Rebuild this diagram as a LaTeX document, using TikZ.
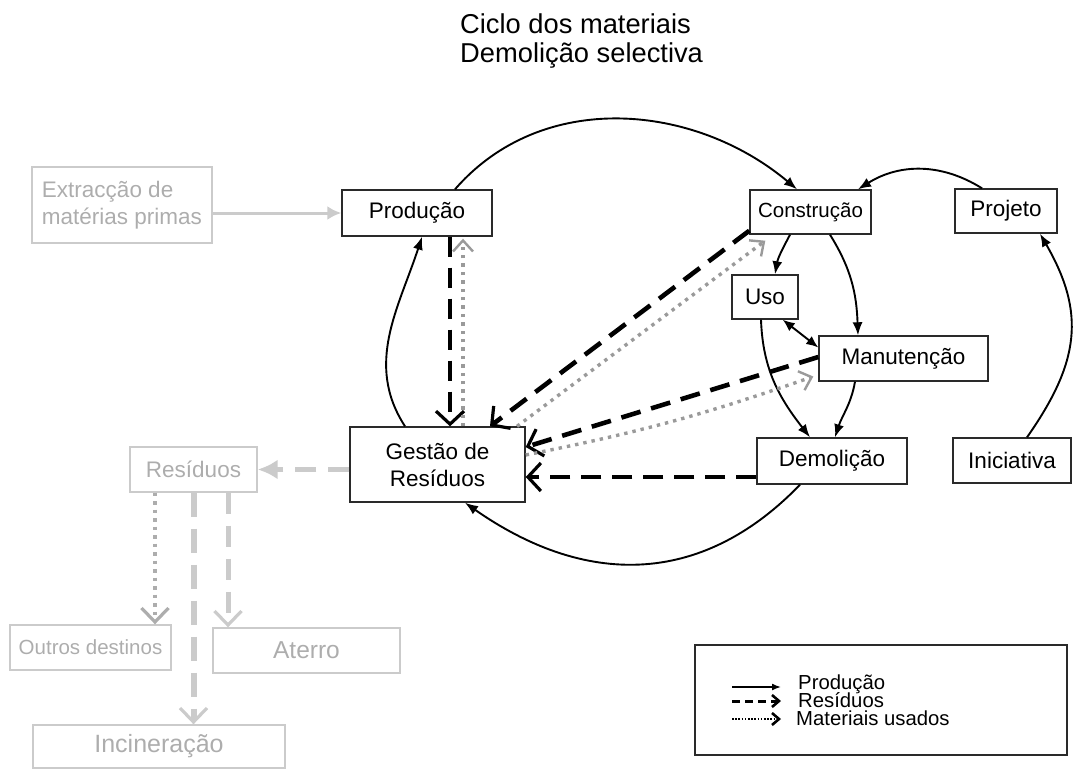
\documentclass[tikz,border=0pt]{standalone}
\usepackage{fontspec}
\setmainfont{Liberation Sans}
\usetikzlibrary{arrows.meta}

\definecolor{pale}{HTML}{CBCBCB}
\definecolor{paletext}{HTML}{ADADAD}
\definecolor{dotgray}{HTML}{9A9A9A}
\definecolor{boxline}{HTML}{2A2A2A}

\tikzset{
  box/.style={draw=boxline, line width=1.4pt, inner sep=0pt, align=center,
    font=\fontsize{22.5}{27}\selectfont},
  palebox/.style={draw=pale, line width=1.4pt, inner sep=0pt, align=center,
    text=paletext, font=\fontsize{22.5}{27}\selectfont},
  prodarrow/.style={line width=1.9pt, -{Latex[length=13pt,width=10pt]}},
  wastearrow/.style={line width=4.6pt, dash pattern=on 20pt off 11pt,
    -{Straight Barb[length=13pt,width=28pt,line width=3.2pt]}},
  usedarrow/.style={dotgray, line width=3.4pt, dash pattern=on 3.4pt off 5pt,
    -{Straight Barb[length=11pt,width=20pt,line width=2.4pt]}},
  palesolid/.style={pale, line width=3pt, -{Latex[length=14pt,width=14pt]}},
  paledash/.style={pale, line width=5pt, dash pattern=on 21pt off 12pt},
  palebarb/.style={-{Straight Barb[length=14pt,width=27pt,line width=3.2pt]}},
  legendtext/.style={anchor=base west, inner sep=0pt, font=\fontsize{20.3}{22}\selectfont},
}

\begin{document}
\begin{tikzpicture}[x=1pt,y=1pt]
\useasboundingbox (0,0) rectangle (1073,-769);

% title
\node[anchor=base west, inner sep=0pt, font=\fontsize{27.3}{30}\selectfont] (title1) at (460,-33) {Ciclo dos materiais};
\node[anchor=base west, inner sep=0pt, font=\fontsize{27.3}{30}\selectfont] (title2) at (460,-62) {Demolição selectiva};

% main cycle nodes
\node[box, minimum width=150pt, minimum height=46pt] (prod)   at (417,-213)     {Produção};
\node[box, minimum width=121pt, minimum height=44pt, font=\fontsize{20.5}{24}\selectfont] (constr) at (810.5,-212) {Construção};
\node[box, minimum width=102pt, minimum height=44pt] (proj)   at (1006,-211)    {Projeto};
\node[box, minimum width=66pt,  minimum height=44pt] (uso)    at (765,-297)     {Uso};
\node[box, minimum width=169pt, minimum height=45pt] (manut)  at (903.5,-358.5) {Manutenção};
\node[box, minimum width=150pt, minimum height=46pt] (demol)  at (832,-461)     {Demolição};
\node[box, minimum width=118pt, minimum height=45pt] (inic)   at (1012,-460.5)  {Iniciativa};
\node[box, minimum width=175pt, minimum height=75pt] (gestao) at (437.5,-464.5) {Gestão de\\Resíduos};

% outer (pale) nodes
\node[palebox, minimum width=180pt, minimum height=76pt, align=left] (extr) at (122,-205) {Extracção de\\matérias primas};
\node[palebox, minimum width=127pt, minimum height=45pt] (resid)  at (193.5,-469.5) {Resíduos};
\node[palebox, minimum width=161pt, minimum height=45pt, font=\fontsize{20.5}{24}\selectfont] (outros) at (90.5,-647.5) {Outros destinos};
\node[palebox, minimum width=187pt, minimum height=45pt, font=\fontsize{24.5}{28}\selectfont] (aterro) at (306.5,-650.5) {Aterro};
\node[palebox, minimum width=252pt, minimum height=43pt, font=\fontsize{25}{28}\selectfont] (incin) at (159,-746.5) {Incineração};

% production flow
\draw[prodarrow] ([xshift=38pt]prod.north) to[out=49,in=140] ([xshift=-13.5pt]constr.north);
\draw[prodarrow] ([xshift=-24pt]proj.north) to[out=148,in=32] ([xshift=47.5pt]constr.north);
\draw[prodarrow] ([xshift=15pt]inic.north) to[out=55,in=-60,looseness=1.15] ([xshift=34pt]proj.south);
\draw[prodarrow] ([xshift=-20.5pt]constr.south) to[out=-118,in=80] ([xshift=10pt]uso.north);
\draw[prodarrow] ([xshift=19.5pt]constr.south) to[out=-58,in=92] ([xshift=-45.5pt]manut.north);
\draw[line width=1.9pt, {Latex[length=12pt,width=10pt]}-{Latex[length=12pt,width=10pt]}]
  ([xshift=-16pt]uso.south east) -- ([yshift=11pt]manut.west);
\draw[prodarrow] ([xshift=-4pt]uso.south) to[out=-88,in=128] ([xshift=-22pt]demol.north);
\draw[prodarrow] ([xshift=-48.5pt]manut.south) to[out=-100,in=72] ([xshift=3pt]demol.north);
\draw[prodarrow] ([xshift=-32pt]demol.south) to[out=-134,in=-35,looseness=1.1] ([xshift=27.5pt]gestao.south);
\draw[prodarrow] ([xshift=-32.5pt]gestao.north) to[out=123,in=-108] ([xshift=5pt]prod.south);

% waste flow
\draw[wastearrow] ([xshift=33pt]prod.south) -- ([xshift=12.5pt]gestao.north);
\draw[wastearrow] ([yshift=4pt]constr.south west) -- ([xshift=52.5pt]gestao.north);
\draw[wastearrow] ([yshift=1.5pt]manut.west) -- ([yshift=17.5pt]gestao.east);
\draw[wastearrow] ([yshift=-16pt]demol.west) -- ([yshift=-12.5pt]gestao.east);

% reused materials
\draw[usedarrow] ([xshift=25.5pt]gestao.north) -- ([xshift=46pt,yshift=-2pt]prod.south);
\draw[usedarrow] ([xshift=79.5pt]gestao.north) -- ([xshift=16pt,yshift=-6pt]constr.south west);
\draw[usedarrow] ([yshift=9.5pt]gestao.east) to[bend right=4] ([xshift=-5pt,yshift=-18pt]manut.west);

% pale outer flows
\draw[palesolid] ([yshift=-8pt]extr.east) -- (prod.west);
\draw[paledash, -{Latex[length=20pt,width=20pt]}] ([yshift=-5pt]gestao.west) -- (resid.east);
\draw[pale!85!black, line width=4pt, dash pattern=on 3.5pt off 5pt, palebarb] ([xshift=-38.5pt]resid.south) -- ([xshift=64.5pt]outros.north);
\draw[paledash, line width=6pt, dash pattern=on 24pt off 12pt, palebarb] (resid.south) -- ([xshift=34.5pt]incin.north);
\draw[paledash, palebarb] ([xshift=34.5pt]resid.south) -- ([xshift=-78.5pt]aterro.north);

% legend
\node[draw=boxline, line width=1.4pt, minimum width=372pt, minimum height=110pt, inner sep=0pt] (legend) at (881,-700) {};
\coordinate (la1) at (732,-687); \coordinate (lb1) at (781,-687);
\coordinate (la2) at (732,-701); \coordinate (lb2) at (781,-701);
\coordinate (la3) at (732,-719); \coordinate (lb3) at (781,-719);
\draw[line width=1.5pt, -{Latex[length=9pt,width=7pt]}] (la1) -- (lb1);
\draw[line width=3pt, dash pattern=on 8pt off 5pt, -{Straight Barb[length=7pt,width=12pt,line width=2.6pt]}] (la2) -- (lb2);
\draw[line width=2.4pt, dash pattern=on 1.6pt off 1.6pt, -{Straight Barb[length=7pt,width=12pt,line width=2.6pt]}] (la3) -- (lb3);
\node[legendtext] (lt1) at (798,-689) {Produção};
\node[legendtext] (lt2) at (798,-707) {Resíduos};
\node[legendtext] (lt3) at (796,-725) {Materiais usados};
\end{tikzpicture}
\end{document}
